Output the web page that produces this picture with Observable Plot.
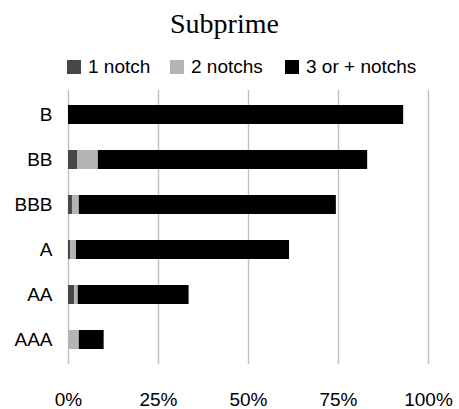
<!DOCTYPE html>
<html>
<head>
<meta charset="utf-8">
<script src="https://cdn.jsdelivr.net/npm/d3@7"></script>
<script src="https://cdn.jsdelivr.net/npm/@observablehq/plot@0.6"></script>
<style>
  html, body { margin: 0; padding: 0; background: #fff; }
  #wrap { position: relative; width: 459px; height: 409px; overflow: hidden; }
  #title { position: absolute; left: 0; width: 449px; top: 8px; text-align: center;
           font-family: "Liberation Serif", "Times New Roman", serif; font-size: 28px; color: #000; }
  .leg { position: absolute; top: 56px; display: flex; align-items: center;
         font-family: "Liberation Sans", Arial, sans-serif; font-size: 19px; color: #000; line-height: 22px; white-space: nowrap; }
  .sw { width: 14px; height: 14px; margin-right: 7px; }
  #chart { position: absolute; left: 0; top: 0; }
</style>
</head>
<body>
<div id="wrap">
  <div id="chart"></div>
  <div id="title">Subprime</div>
  <div id="legend"></div>
</div>
<script>
const ratings = ["B", "BB", "BBB", "A", "AA", "AAA"];
const seriesNames = ["1 notch", "2 notchs", "3 or + notchs"];
const seriesColors = ["#474747", "#b4b4b4", "#000000"];
const oneNotch   = [0.0, 2.5, 1.1, 0.6, 1.7, 0.0];
const twoNotchs  = [0.0, 5.8, 1.9, 1.6, 1.0, 3.0];
const threePlus  = [93.1, 74.8, 71.4, 59.2, 30.8, 6.9];
const xTicks = [0, 25, 50, 75, 100];

const seriesValues = [oneNotch, twoNotchs, threePlus];
const data = [];
ratings.forEach((r, i) => {
  seriesNames.forEach((s, j) => {
    data.push({rating: r, series: s, value: seriesValues[j][i]});
  });
});

const chart = Plot.plot({
  width: 459,
  height: 409,
  marginTop: 90,
  marginBottom: 45,
  marginLeft: 68,
  marginRight: 31,
  style: {fontFamily: "'Liberation Sans', Arial, sans-serif", fontSize: "19px", color: "#000", background: "transparent"},
  x: {domain: [0, 100], ticks: xTicks, tickFormat: d => d + "%", tickSize: 0, tickPadding: 28, label: null},
  y: {domain: ratings, paddingInner: 0.584, paddingOuter: 0.292, tickSize: 0, tickPadding: 16, label: null},
  color: {domain: seriesNames, range: seriesColors},
  marks: [
    Plot.ruleX(xTicks, {stroke: "#c0c0c0", strokeWidth: 1.4}),
    Plot.barX(data, Plot.stackX({x: "value", y: "rating", fill: "series", order: seriesNames}))
  ]
});
document.getElementById("chart").appendChild(chart);

const legendLeft = [67, 170, 285];
const legend = document.getElementById("legend");
seriesNames.forEach((s, j) => {
  const item = document.createElement("div");
  item.className = "leg";
  item.style.left = legendLeft[j] + "px";
  const sw = document.createElement("div");
  sw.className = "sw";
  sw.style.background = seriesColors[j];
  const t = document.createElement("span");
  t.textContent = s;
  item.appendChild(sw);
  item.appendChild(t);
  legend.appendChild(item);
});
</script>
</body>
</html>
